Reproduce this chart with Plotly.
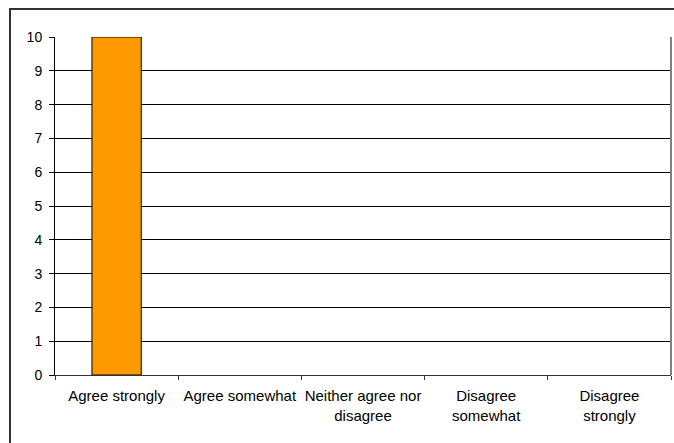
import plotly.graph_objects as go

categories = ["Agree strongly", "Agree somewhat", "Neither agree nor<br>disagree",
              "Disagree<br>somewhat", "Disagree<br>strongly"]
values = [10, 0, 0, 0, 0]
y_ticks = list(range(0, 11))

W, H = 674, 443
L, R, T, B = 55, 3, 37, 68
pw, ph = W - L - R, H - T - B

fig = go.Figure(go.Bar(
    x=categories, y=values,
    marker=dict(color="#FF9900",
                line=dict(color="black", width=[1 if v else 0 for v in values])),
    width=0.4,
))

fig.update_layout(
    width=W, height=H,
    margin=dict(l=L, r=R, t=T, b=B, pad=0),
    paper_bgcolor="white", plot_bgcolor="white",
    font=dict(family="Liberation Sans, Arial, sans-serif", size=14, color="black"),
    showlegend=False,
    xaxis=dict(
        tickson="boundaries", ticks="outside", ticklen=4, tickcolor="#333",
        showline=True, linecolor="#333", linewidth=1, mirror=False,
        showgrid=False, tickangle=0, ticklabelstandoff=7,
        tickfont=dict(size=15),
    ),
    yaxis=dict(
        range=[0, 10], tickvals=y_ticks, ticks="outside", ticklen=5, tickcolor="black",
        showline=True, linecolor="black", linewidth=1, ticklabelstandoff=4,
        showgrid=True, gridcolor="black", gridwidth=1, zeroline=False,
    ),
    shapes=[
        dict(type="line", xref="paper", yref="paper", x0=1, x1=1, y0=0, y1=1,
             line=dict(color="#808080", width=2)),
        dict(type="rect", xref="paper", yref="paper",
             x0=(10 - L) / pw, y0=-0.5, x1=1.5, y1=(H - B - 9) / ph,
             line=dict(color="#333", width=2), fillcolor="rgba(0,0,0,0)", layer="below"),
    ],
)

fig.write_html("out.html")
